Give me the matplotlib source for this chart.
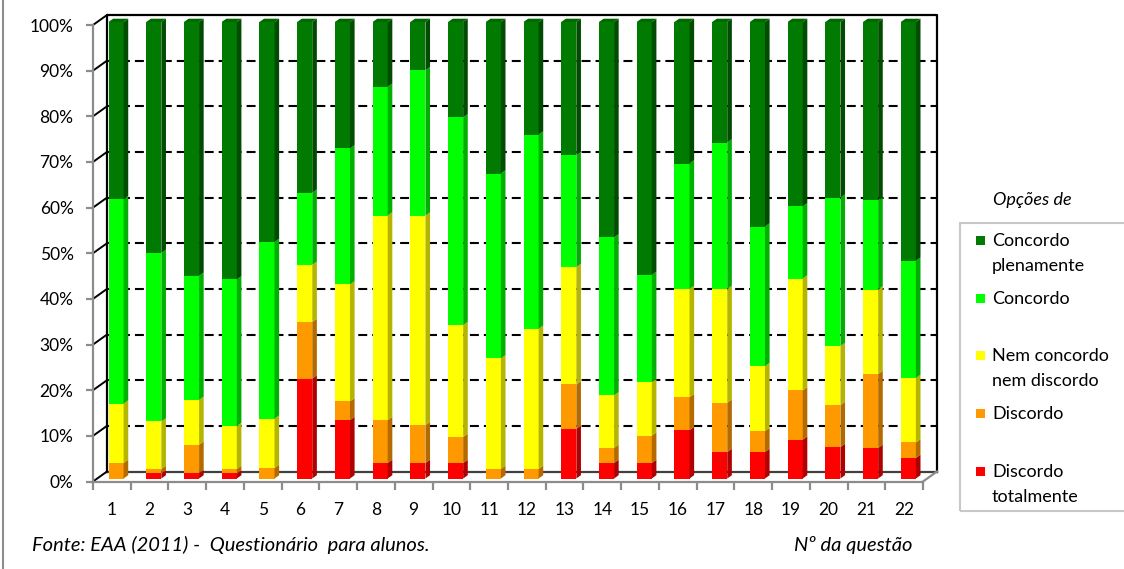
import matplotlib
matplotlib.use("Agg")
import numpy as np
import matplotlib.pyplot as plt
from matplotlib.patches import Polygon, Rectangle
from matplotlib.lines import Line2D

plt.rcParams['font.family'] = ['Lato', 'DejaVu Sans']

# dados (% por questão)
questoes = [str(i) for i in range(1, 23)]
discordo_totalmente = [0, 1.1, 1.2, 1.1, 0, 21.9, 12.8, 3.4, 3.4, 3.4, 0, 0, 10.9, 3.4, 3.4, 10.6, 5.8, 5.8, 8.5, 6.9, 6.7, 4.5]
discordo = [3.4, 1.0, 6.2, 1.0, 2.3, 12.4, 4.1, 9.4, 8.3, 5.7, 2.1, 2.1, 9.7, 3.3, 6.0, 7.2, 10.8, 4.6, 10.8, 9.2, 16.2, 3.4]
nem_concordo = [13.0, 10.4, 9.8, 9.4, 10.8, 12.5, 25.6, 44.8, 45.9, 24.5, 24.2, 30.7, 25.7, 11.5, 11.7, 23.7, 24.9, 14.2, 24.5, 12.9, 18.5, 14.1]
concordo = [44.8, 36.9, 27.2, 32.1, 38.7, 15.8, 29.8, 28.2, 31.8, 45.5, 40.5, 42.5, 24.5, 34.6, 23.5, 27.5, 32.1, 30.6, 15.8, 32.5, 19.5, 25.7]
plenamente = [38.8, 50.6, 55.6, 56.4, 48.2, 37.4, 27.7, 14.2, 10.6, 20.9, 33.2, 24.7, 29.2, 47.2, 55.4, 31.0, 26.4, 44.8, 40.4, 38.5, 39.1, 52.3]

series = [discordo_totalmente, discordo, nem_concordo, concordo, plenamente]
nomes = ["Discordo\ntotalmente", "Discordo", "Nem concordo\nnem discordo", "Concordo", "Concordo\nplenamente"]
cores = ["#FF0000", "#FF9900", "#FFFF00", "#00FF00", "#007A00"]
cores_lado = ["#B00000", "#B36B00", "#B5B500", "#00B000", "#004C00"]

W, H = 1124, 569
fig = plt.figure(figsize=(W / 100, H / 100), dpi=100)

def px(x, y):
    return x / W, 1 - y / H

# plano frontal do gráfico
ax = fig.add_axes([93 / W, (H - 481.5) / H, 830 / W, 456.5 / H])
n = len(questoes)
ax.set_xlim(0, n)
ax.set_ylim(0, 100)
dx = 14 / 830 * n          # profundidade (em unidades de categoria)
dy = 10 / 456.5 * 100      # profundidade (em %)

for s in ["top", "right"]:
    ax.spines[s].set_visible(False)
for s in ["left", "bottom"]:
    ax.spines[s].set_color("#8C8C8C")
    ax.spines[s].set_linewidth(1.6)
    ax.spines[s].set_zorder(1)

ax.set_yticks(np.arange(0, 101, 10))
ax.set_yticklabels([f"{v}%" for v in range(0, 101, 10)], fontsize=12.5)
ax.tick_params(axis="y", length=5, width=1.6, color="#8C8C8C", pad=9)
xc = np.arange(n) + 0.5
ax.set_xticks(xc)
ax.set_xticklabels(questoes, fontsize=12.5)
ax.set_xticks(np.arange(0, n + 1), minor=True)
ax.tick_params(axis="x", which="major", length=0, pad=15)
ax.tick_params(axis="x", which="minor", length=6, width=1.6, color="#8C8C8C")

# parede de fundo
ax.plot([dx, dx, n + dx, n + dx], [dy, 100 + dy, 100 + dy, dy], color="black", lw=1.6, clip_on=False, zorder=1)
ax.plot([dx, n + dx], [dy, dy], color="#404040", lw=1.6, clip_on=False, zorder=1)
ax.plot([n, n + dx], [0, dy], color="#8C8C8C", lw=1.6, clip_on=False, zorder=1)
for v in range(0, 101, 10):
    ax.plot([0, dx], [v, v + dy], color="black", lw=1.4, clip_on=False, zorder=1)
    if 0 < v < 100:
        ax.plot([dx, n + dx], [v + dy, v + dy], color="black", lw=1.5,
                dashes=(4.3, 2.4), clip_on=False, zorder=1)

# colunas 3D
f0, fd, w = 0.3, 0.33, 0.40
base = np.zeros(n)
for vals, cor, lado in zip(series, cores, cores_lado):
    vals = np.array(vals)
    ax.bar(xc + f0 * dx, vals, w, bottom=base + f0 * dy, color=cor, zorder=3, clip_on=False)
    for i in range(n):
        if vals[i] <= 0:
            continue
        xr = xc[i] + f0 * dx + w / 2
        b = base[i] + f0 * dy
        t = b + vals[i]
        ax.add_patch(Polygon([(xr, b), (xr + fd * dx, b + fd * dy), (xr + fd * dx, t + fd * dy), (xr, t)],
                             closed=True, facecolor=lado, edgecolor="none", zorder=3, clip_on=False))
    base = base + vals

topo = base + f0 * dy
for i in range(n):
    xl = xc[i] + f0 * dx - w / 2
    xr = xl + w
    ax.add_patch(Polygon([(xl, topo[i]), (xl + fd * dx, topo[i] + fd * dy),
                          (xr + fd * dx, topo[i] + fd * dy), (xr, topo[i])],
                         closed=True, facecolor="#006A00", edgecolor="none", zorder=3, clip_on=False))

# legenda
fig.add_artist(Rectangle(px(960, 511), (1135 - 960) / W, (511 - 222.7) / H, transform=fig.transFigure,
                         fill=False, edgecolor="#C8C8C8", lw=1.5))
fig.text(*px(1032, 205), "Opções de", ha="center", va="baseline", fontsize=13, style="italic")
linhas_y = [246, 304, 361, 419, 477]
for nome, cor, yb in zip(nomes[::-1], cores[::-1], linhas_y):
    fig.add_artist(Rectangle(px(976, yb - 1.5), 9 / W, 9 / H, transform=fig.transFigure,
                             facecolor=cor, edgecolor="none"))
    for j, linha in enumerate(nome.split("\n")):
        fig.text(*px(992, yb + 25 * j), linha, ha="left", va="baseline", fontsize=13)

# textos de rodapé
fig.text(*px(32, 551), "Fonte: EAA (2011) -  Questionário  para alunos.", ha="left", va="baseline",
         fontsize=14.5, style="italic")
fig.text(*px(912, 551), "Nº da questão", ha="right", va="baseline", fontsize=14.5, style="italic")
fig.add_artist(Line2D([3 / W, 3 / W], [0, 1], transform=fig.transFigure, color="#8C8C8C", lw=1.5))

fig.savefig("out.png", dpi=100)
plt.close(fig)
